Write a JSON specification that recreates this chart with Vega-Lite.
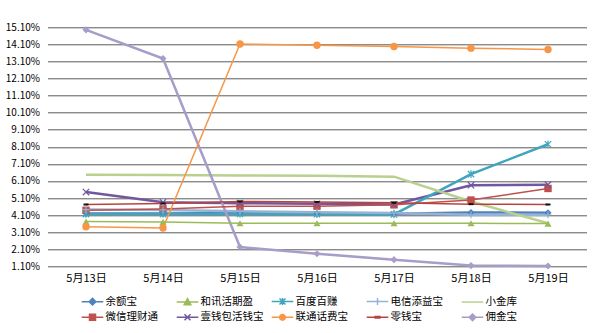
{
  "$schema": "https://vega.github.io/schema/vega-lite/v6.json",
  "width": 539,
  "height": 239,
  "autosize": {"type": "none"},
  "padding": {"left": 47.5, "top": 27.3, "right": 13.5, "bottom": 66.7},
  "background": "white",
  "config": {
    "view": {"stroke": null},
    "font": "Noto Sans CJK SC",
    "axis": {"labelFont": "Noto Sans CJK SC", "labelColor": "#000", "domain": false, "ticks": false, "title": null},
    "legend": {"labelFont": "Noto Sans CJK SC", "labelColor": "#000"}
  },
  "data": {"values": [
    {"series":"余额宝","date":"5月13日","value":4.20},{"series":"余额宝","date":"5月14日","value":4.20},{"series":"余额宝","date":"5月15日","value":4.22},{"series":"余额宝","date":"5月16日","value":4.20},{"series":"余额宝","date":"5月17日","value":4.18},{"series":"余额宝","date":"5月18日","value":4.25},{"series":"余额宝","date":"5月19日","value":4.24},
    {"series":"微信理财通","date":"5月13日","value":4.38},{"series":"微信理财通","date":"5月14日","value":4.46},{"series":"微信理财通","date":"5月15日","value":4.62},{"series":"微信理财通","date":"5月16日","value":4.62},{"series":"微信理财通","date":"5月17日","value":4.70},{"series":"微信理财通","date":"5月18日","value":4.98},{"series":"微信理财通","date":"5月19日","value":5.66},
    {"series":"和讯活期盈","date":"5月13日","value":3.72},{"series":"和讯活期盈","date":"5月14日","value":3.70},{"series":"和讯活期盈","date":"5月15日","value":3.62},{"series":"和讯活期盈","date":"5月16日","value":3.62},{"series":"和讯活期盈","date":"5月17日","value":3.62},{"series":"和讯活期盈","date":"5月18日","value":3.62},{"series":"和讯活期盈","date":"5月19日","value":3.60},
    {"series":"壹钱包活钱宝","date":"5月13日","value":5.45},{"series":"壹钱包活钱宝","date":"5月14日","value":4.85},{"series":"壹钱包活钱宝","date":"5月15日","value":4.80},{"series":"壹钱包活钱宝","date":"5月16日","value":4.76},{"series":"壹钱包活钱宝","date":"5月17日","value":4.72},{"series":"壹钱包活钱宝","date":"5月18日","value":5.85},{"series":"壹钱包活钱宝","date":"5月19日","value":5.88},
    {"series":"百度百赚","date":"5月13日","value":4.16},{"series":"百度百赚","date":"5月14日","value":4.16},{"series":"百度百赚","date":"5月15日","value":4.17},{"series":"百度百赚","date":"5月16日","value":4.15},{"series":"百度百赚","date":"5月17日","value":4.14},{"series":"百度百赚","date":"5月18日","value":6.50},{"series":"百度百赚","date":"5月19日","value":8.25},
    {"series":"联通话费宝","date":"5月13日","value":3.42},{"series":"联通话费宝","date":"5月14日","value":3.34},{"series":"联通话费宝","date":"5月15日","value":14.12},{"series":"联通话费宝","date":"5月16日","value":14.05},{"series":"联通话费宝","date":"5月17日","value":13.98},{"series":"联通话费宝","date":"5月18日","value":13.88},{"series":"联通话费宝","date":"5月19日","value":13.80},
    {"series":"电信添益宝","date":"5月13日","value":4.42},{"series":"电信添益宝","date":"5月14日","value":4.40},{"series":"电信添益宝","date":"5月15日","value":4.32},{"series":"电信添益宝","date":"5月16日","value":4.27},{"series":"电信添益宝","date":"5月17日","value":4.22},{"series":"电信添益宝","date":"5月18日","value":4.12},{"series":"电信添益宝","date":"5月19日","value":4.12},
    {"series":"零钱宝","date":"5月13日","value":4.72},{"series":"零钱宝","date":"5月14日","value":4.78},{"series":"零钱宝","date":"5月15日","value":4.90},{"series":"零钱宝","date":"5月16日","value":4.87},{"series":"零钱宝","date":"5月17日","value":4.82},{"series":"零钱宝","date":"5月18日","value":4.74},{"series":"零钱宝","date":"5月19日","value":4.72},
    {"series":"小金库","date":"5月13日","value":6.47},{"series":"小金库","date":"5月14日","value":6.45},{"series":"小金库","date":"5月15日","value":6.42},{"series":"小金库","date":"5月16日","value":6.40},{"series":"小金库","date":"5月17日","value":6.35},{"series":"小金库","date":"5月18日","value":4.90},{"series":"小金库","date":"5月19日","value":3.62},
    {"series":"佣金宝","date":"5月13日","value":14.95},{"series":"佣金宝","date":"5月14日","value":13.27},{"series":"佣金宝","date":"5月15日","value":2.23},{"series":"佣金宝","date":"5月16日","value":1.84},{"series":"佣金宝","date":"5月17日","value":1.49},{"series":"佣金宝","date":"5月18日","value":1.14},{"series":"佣金宝","date":"5月19日","value":1.12}
  ]},
  "encoding": {
    "x": {"field": "date", "type": "nominal", "sort": ["5月13日","5月14日","5月15日","5月16日","5月17日","5月18日","5月19日"],
          "scale": {"type": "point", "padding": 0.5},
          "axis": {"labelAngle": 0, "labelFontSize": 11, "labelPadding": 6, "grid": false}},
    "y": {"field": "value", "type": "quantitative",
          "scale": {"domain": [1.1, 15.1], "nice": false, "zero": false},
          "axis": {"values": [1.1,2.1,3.1,4.1,5.1,6.1,7.1,8.1,9.1,10.1,11.1,12.1,13.1,14.1,15.1],
                   "labelExpr": "format(datum.value, '.2f') + '%'", "labelFontSize": 10, "labelPadding": 8,
                   "grid": true, "gridColor": "#5a5a5a", "gridWidth": 1}}
  },
  "layer": [
    {"transform": [{"filter": {"field": "series", "oneOf": ["余额宝","壹钱包活钱宝","百度百赚","电信添益宝","小金库","佣金宝"]}}],
     "mark": {"type": "line", "strokeWidth": 2.5},
     "encoding": {"color": {"field": "series", "type": "nominal", "legend": null,
        "scale": {"domain": ["佣金宝","小金库","零钱宝","电信添益宝","联通话费宝","百度百赚","壹钱包活钱宝","和讯活期盈","微信理财通","余额宝"],
                  "range": ["#A89CC8","#B9D08F","#B8443F","#95B3D7","#F79646","#3FA5BE","#7057A0","#9BBB59","#C0504D","#4F81BD"]}}}},
    {"transform": [{"filter": {"field": "series", "oneOf": ["微信理财通","和讯活期盈","联通话费宝","零钱宝"]}}],
     "mark": {"type": "line", "strokeWidth": 1.5},
     "encoding": {"color": {"field": "series", "type": "nominal", "legend": null}}},
    {"transform": [{"filter": {"field": "series", "oneOf": ["余额宝","佣金宝"]}}],
     "mark": {"type": "point", "shape": "diamond", "filled": true, "size": 50, "opacity": 1},
     "encoding": {"color": {"field": "series", "type": "nominal", "legend": null}}},
    {"transform": [{"filter": {"field": "series", "equal": "微信理财通"}}],
     "mark": {"type": "point", "shape": "square", "filled": true, "size": 55, "opacity": 1},
     "encoding": {"color": {"field": "series", "type": "nominal", "legend": null}}},
    {"transform": [{"filter": {"field": "series", "equal": "和讯活期盈"}}],
     "mark": {"type": "point", "shape": "triangle-up", "filled": true, "size": 50, "opacity": 1},
     "encoding": {"color": {"field": "series", "type": "nominal", "legend": null}}},
    {"transform": [{"filter": {"field": "series", "equal": "联通话费宝"}}],
     "mark": {"type": "point", "shape": "circle", "filled": true, "size": 55, "opacity": 1},
     "encoding": {"color": {"field": "series", "type": "nominal", "legend": null}}},
    {"transform": [{"filter": {"field": "series", "equal": "壹钱包活钱宝"}}],
     "mark": {"type": "point", "shape": "M-1,-1L1,1M-1,1L1,-1", "filled": false, "size": 40, "strokeWidth": 1.2, "opacity": 1},
     "encoding": {"color": {"field": "series", "type": "nominal", "legend": null}}},
    {"transform": [{"filter": {"field": "series", "equal": "百度百赚"}}],
     "mark": {"type": "point", "shape": "M-1,-1L1,1M-1,1L1,-1M0,-1.2V1.2", "filled": false, "size": 40, "strokeWidth": 1.2, "opacity": 1},
     "encoding": {"color": {"field": "series", "type": "nominal", "legend": null}}},
    {"transform": [{"filter": {"field": "series", "equal": "电信添益宝"}}],
     "mark": {"type": "point", "shape": "M-1,0H1M0,-1V1", "filled": false, "size": 50, "strokeWidth": 1.2, "opacity": 1},
     "encoding": {"color": {"field": "series", "type": "nominal", "legend": null}}},
    {"transform": [{"filter": {"field": "series", "equal": "零钱宝"}}],
     "mark": {"type": "point", "shape": "M-1,0H1", "filled": false, "size": 25, "strokeWidth": 2, "color": "#111", "opacity": 1}},
    {"mark": {"type": "point", "opacity": 0.001},
     "encoding": {
       "fill": {"field": "series", "type": "nominal", "title": null,
         "scale": {"domain": ["余额宝","微信理财通","和讯活期盈","壹钱包活钱宝","百度百赚","联通话费宝","电信添益宝","零钱宝","小金库","佣金宝"],
                   "range": ["#4F81BD","#C0504D","#9BBB59","#7057A0","#3FA5BE","#F79646","#95B3D7","#B8443F","#B9D08F","#A89CC8"]}},
       "stroke": {"field": "series", "type": "nominal", "title": null,
         "scale": {"domain": ["余额宝","微信理财通","和讯活期盈","壹钱包活钱宝","百度百赚","联通话费宝","电信添益宝","零钱宝","小金库","佣金宝"],
                   "range": ["#4F81BD","#C0504D","#9BBB59","#7057A0","#3FA5BE","#F79646","#95B3D7","#B8443F","#B9D08F","#A89CC8"]}},
       "shape": {"field": "series", "type": "nominal", "title": null,
         "legend": {"orient": "none", "legendX": 38, "legendY": 267, "columns": 5, "gridAlign": "all", "columnPadding": 5, "rowPadding": 2,
                    "symbolSize": 144, "symbolStrokeWidth": 1.5, "symbolOpacity": 1, "labelFontSize": 10.5, "labelOffset": 6},
         "scale": {"domain": ["余额宝","微信理财通","和讯活期盈","壹钱包活钱宝","百度百赚","联通话费宝","电信添益宝","零钱宝","小金库","佣金宝"],
                   "range": [
                     "M-1.8,0H1.8M0,-0.55L0.55,0L0,0.55L-0.55,0Z",
                     "M-1.8,0H1.8M-0.5,-0.5H0.5V0.5H-0.5Z",
                     "M-1.8,0H1.8M0,-0.55L0.55,0.45H-0.55Z",
                     "M-1.8,0H1.8M-0.5,-0.5L0.5,0.5M-0.5,0.5L0.5,-0.5",
                     "M-1.8,0H1.8M-0.5,-0.5L0.5,0.5M-0.5,0.5L0.5,-0.5M0,-0.6V0.6",
                     "M-1.8,0H1.8M-0.5,0L-0.35,-0.35L0,-0.5L0.35,-0.35L0.5,0L0.35,0.35L0,0.5L-0.35,0.35Z",
                     "M-1.8,0H1.8M0,-0.6V0.6",
                     "M-1.8,0H1.8M-0.4,-0.12H0.4V0.12H-0.4Z",
                     "M-1.8,0H1.8",
                     "M-1.8,0H1.8M0,-0.55L0.55,0L0,0.55L-0.55,0Z"]}}
     }}
  ]
}
